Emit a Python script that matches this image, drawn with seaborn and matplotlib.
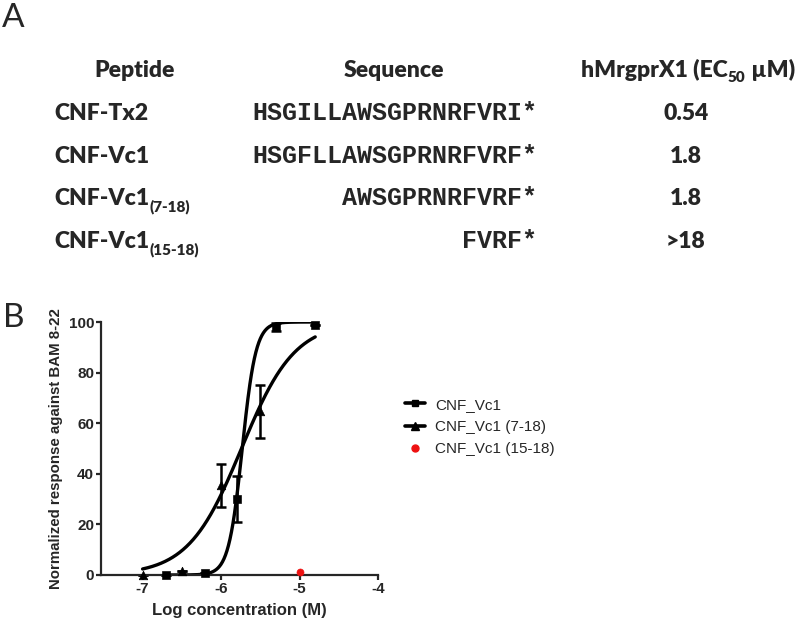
import numpy as np
import pandas as pd
import seaborn as sns
import matplotlib.pyplot as plt
from matplotlib.lines import Line2D

# Panel A table
peptides = ["CNF-Tx2", "CNF-Vc1", "CNF-Vc1", "CNF-Vc1"]
peptide_subs = ["", "", "(7-18)", "(15-18)"]
sequences = ["HSGILLAWSGPRNRFVRI*", "HSGFLLAWSGPRNRFVRF*", "AWSGPRNRFVRF*", "FVRF*"]
ec50_labels = ["0.54", "1.8", "1.8", ">18"]

# Panel B data
vc1_x = [-6.7, -6.2, -5.8, -5.3, -4.8]
vc1_y = [0.0, 0.8, 30.0, 98.0, 99.0]
vc1_err = [0.0, 0.0, 9.0, 1.5, 0.0]

vc1_718_x = [-7.0, -6.5, -6.0, -5.5]
vc1_718_y = [0.0, 1.5, 35.5, 64.7]
vc1_718_err = [0.0, 0.0, 8.5, 10.5]

vc1_1518_x = [-5.0]
vc1_1518_y = [1.3]

# sigmoid fit parameters (logEC50, hill slope, curve x-range)
fit_vc1 = (-5.73, 5.0, -6.7, -4.8)
fit_718 = (-5.74, 1.28, -7.0, -4.8)

sns.set_style("ticks")
plt.rcParams["axes.unicode_minus"] = False
plt.rcParams["font.family"] = ["Liberation Sans", "DejaVu Sans"]

W, H = 800, 621
fig = plt.figure(figsize=(W / 100, H / 100), dpi=100)


def fx(px):
    return px / W


def fy(py):
    return 1 - py / H


HEAD = dict(family="Lato", weight="heavy", fontsize=16.5)

# panel letters
fig.text(fx(2), fy(27), "A", family="Lato", fontsize=24, va="baseline")
fig.text(fx(3), fy(327), "B", family="Lato", fontsize=24, va="baseline")

# headers
fig.text(fx(135), fy(77), "Peptide", ha="center", va="baseline", **HEAD)
fig.text(fx(394), fy(77), "Sequence", ha="center", va="baseline", **HEAD)

fig.canvas.draw()
renderer = fig.canvas.get_renderer()


def pieces(x0, y0, parts, center=False):
    # parts: list of (text, size, dy_px)
    texts = []
    x = x0
    for s, size, dy in parts:
        t = fig.text(fx(x), fy(y0 + dy), s, family="Lato", weight="heavy",
                     fontsize=size, va="baseline", ha="left")
        bb = t.get_window_extent(renderer)
        texts.append(t)
        x += bb.width
    if center:
        shift = (x - x0) / 2
        for t in texts:
            px, py = t.get_position()
            t.set_position((px - fx(shift), py))


pieces(688, 77, [("hMrgprX1 (EC", 16.5, 0), ("50", 11, 5), (" \u00b5M)", 16.5, 0)],
       center=True)

row_y = [120, 163, 205, 248]
for i in range(len(peptides)):
    parts = [(peptides[i], 16.5, 0)]
    if peptide_subs[i]:
        parts.append((peptide_subs[i], 11, 6))
    pieces(54, row_y[i], parts)
    fig.text(fx(537), fy(row_y[i]), sequences[i], family="Liberation Mono",
             weight="bold", fontsize=18, ha="right", va="baseline")
    fig.text(fx(686), fy(row_y[i]), ec50_labels[i], ha="center", va="baseline", **HEAD)

# Panel B
ax = fig.add_axes([fx(101), fy(575), (378 - 101) / W, (575 - 322) / H])


def curve(params):
    e, h, x0, x1 = params
    xs = np.linspace(x0, x1, 300)
    return pd.DataFrame({"x": xs, "y": 100 / (1 + 10 ** ((e - xs) * h))})


c1 = curve(fit_vc1)
c2 = curve(fit_718)
sns.lineplot(data=c1, x="x", y="y", ax=ax, color="black", lw=2.4)
sns.lineplot(data=c2, x="x", y="y", ax=ax, color="black", lw=2.4)

ax.errorbar(vc1_x, vc1_y, yerr=vc1_err, fmt="none", ecolor="black",
            elinewidth=1.8, capsize=3.5, capthick=1.8, clip_on=False)
ax.errorbar(vc1_718_x, vc1_718_y, yerr=vc1_718_err, fmt="none", ecolor="black",
            elinewidth=1.8, capsize=3.5, capthick=1.8, clip_on=False)
sns.scatterplot(x=vc1_x, y=vc1_y, ax=ax, marker="s", s=32, color="black",
                edgecolor="black", clip_on=False, zorder=5)
sns.scatterplot(x=vc1_718_x, y=vc1_718_y, ax=ax, marker="^", s=38, color="black",
                edgecolor="black", clip_on=False, zorder=5)
sns.scatterplot(x=vc1_1518_x, y=vc1_1518_y, ax=ax, marker="o", s=26, color="#ee1111",
                edgecolor="#ee1111", clip_on=False, zorder=5)

ax.set_xlim(-7.53, -4)
ax.set_ylim(0, 100)
ax.set_xticks([-7, -6, -5, -4])
ax.set_yticks([0, 20, 40, 60, 80, 100])
sns.despine(ax=ax)
for sp in ("left", "bottom"):
    ax.spines[sp].set_linewidth(1.6)
ax.tick_params(direction="out", length=3.5, width=1.6, pad=1.5, labelsize=11)
for lab in ax.get_xticklabels() + ax.get_yticklabels():
    lab.set_fontweight("bold")
ax.set_xlabel("Log concentration (M)", fontsize=12, fontweight="bold", labelpad=5)
ax.set_ylabel("Normalized response against BAM 8-22", fontsize=10.8,
              fontweight="bold", labelpad=4)

handles = [
    Line2D([], [], color="black", lw=2.6, marker="s", markersize=5),
    Line2D([], [], color="black", lw=2.6, marker="^", markersize=6),
    Line2D([], [], color="#ee1111", lw=0, marker="o", markersize=5),
]
labels = ["CNF_Vc1", "CNF_Vc1 (7-18)", "CNF_Vc1 (15-18)"]
fig.legend(handles, labels, loc="center left", bbox_to_anchor=(fx(391), fy(427)),
           frameon=False, fontsize=11, handlelength=1.3, handletextpad=0.7,
           labelspacing=0.55, borderpad=0.4)

fig.savefig("out.png", dpi=100)
